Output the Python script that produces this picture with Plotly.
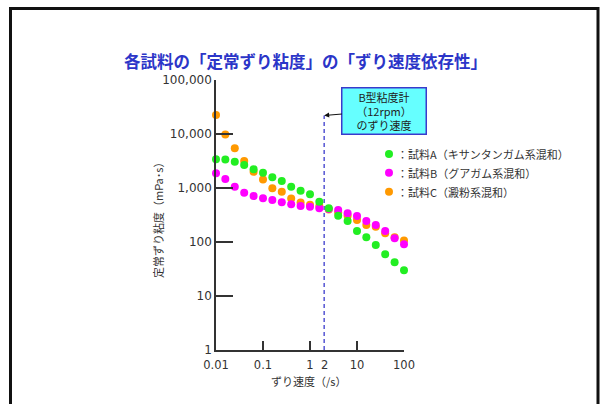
import math
import plotly.graph_objects as go

# ---- data ----
shear_rate = [0.01, 0.0158, 0.0251, 0.0398, 0.0631, 0.1, 0.158, 0.251, 0.398, 0.631,
              1, 1.58, 2.51, 3.98, 6.31, 10, 15.8, 25.1, 39.8, 63.1, 100]
sample_a = [3400, 3380, 3070, 2670, 2220, 1920, 1580, 1350, 1057, 890,
            764, 557, 421, 307, 245, 160, 122, 88, 59, 42, 30]
sample_b = [1870, 1470, 1057, 818, 711, 645, 600, 544, 499, 464,
            450, 421, 410, 392, 340, 303, 245, 206, 160, 117, 91]
sample_c = [22400, 9800, 5430, 3160, 2000, 1440, 990, 850, 640, 540,
            490, 464, 400, 350, 307, 255, 206, 192, 145, 122, 107]
series_names = ["：試料A（キサンタンガム系混和）", "：試料B（グアガム系混和）", "：試料C（澱粉系混和）"]
series_colors = ["#22ee22", "#ff00ff", "#ff9900"]

x_tickvals = [0.01, 0.1, 1, 10, 100]
x_ticktext = ["0.01", "0.1", "1", "10", "100"]
y_tickvals = [1, 10, 100, 1000, 10000, 100000]
y_ticktext = ["1", "10", "100", "1,000", "10,000", "100,000"]

b_type_rate = 2          # B型粘度計(12rpm)のずり速度
b_line_top = 22000

title_text = "各試料の「定常ずり粘度」の「ずり速度依存性」"
x_title = "ずり速度（/s）"
y_title = "定常ずり粘度（mPa･s）"
note_text = "B型粘度計<br>（12rpm）<br>のずり速度"

JP = "Noto Sans CJK JP"
NUM = "DejaVu Sans"

# ---- layout geometry (pixels) ----
W, H = 605, 404
L, R, T, B = 216, 201, 80, 54
PW, PH = W - L - R, H - T - B


def px(x):
    return (x - L) / PW


def py(y):
    return (H - B - y) / PH


fig = go.Figure()

# dashed reference line
fig.add_trace(go.Scatter(x=[b_type_rate, b_type_rate], y=[1, b_line_top], mode="lines",
                         line=dict(color="#3a3acc", width=1.3, dash="4px,3px"),
                         hoverinfo="skip", showlegend=False, cliponaxis=False))

# draw C, B, then A on top
order = [2, 1, 0]
all_vals = [sample_a, sample_b, sample_c]
for i in order:
    fig.add_trace(go.Scatter(x=shear_rate, y=all_vals[i], mode="markers", name=series_names[i],
                             marker=dict(color=series_colors[i], size=8, line=dict(width=0)),
                             cliponaxis=False, showlegend=False))

shapes = []
annotations = []

# outer frame
shapes.append(dict(type="rect", xref="paper", yref="paper",
                   x0=px(10.5), x1=px(598), y0=py(420), y1=py(8.5),
                   line=dict(color="#111111", width=3), fillcolor="rgba(0,0,0,0)", layer="below"))

# legend (manual)
leg_y = [154, 172.7, 191.7]
for name, col, yy in zip(series_names, series_colors, leg_y):
    shapes.append(dict(type="circle", xref="paper", yref="paper", xsizemode="pixel", ysizemode="pixel",
                       xanchor=px(389), yanchor=py(yy), x0=-4, x1=4, y0=-4, y1=4,
                       fillcolor=col, line=dict(width=0)))
    annotations.append(dict(x=px(395), y=py(yy), xref="paper", yref="paper", xanchor="left",
                            yanchor="middle", text=name, showarrow=False,
                            font=dict(family=JP, size=11, color="#333333")))

# title
annotations.append(dict(x=px(305), y=py(61), xref="paper", yref="paper", text=title_text,
                        showarrow=False, xanchor="center", yanchor="middle",
                        font=dict(family=JP, size=16.5, color="#2b35c8", weight="bold")))
# axis titles
annotations.append(dict(x=px(308), y=py(381), xref="paper", yref="paper", text=x_title,
                        showarrow=False, xanchor="center", yanchor="middle",
                        font=dict(family=JP, size=11, color="#333333")))
annotations.append(dict(x=px(158), y=py(218), xref="paper", yref="paper", text=y_title,
                        showarrow=False, textangle=-90, xanchor="center", yanchor="middle",
                        font=dict(family=JP, size=11, color="#333333")))
# "2" tick label
annotations.append(dict(x=math.log10(b_type_rate), y=py(364.5), xref="x", yref="paper", text="2",
                        showarrow=False, yanchor="middle", xanchor="center",
                        font=dict(family=NUM, size=11.5, color="#333333")))
# note box
annotations.append(dict(x=math.log10(b_type_rate), y=math.log10(b_line_top), xref="x", yref="y",
                        text=note_text, showarrow=True, ax=60, ay=-5,
                        arrowhead=2, arrowsize=1, arrowwidth=1, arrowcolor="#111111",
                        bgcolor="#66ffff", bordercolor="#3a3acc", borderwidth=1.5, borderpad=1,
                        width=81, height=43, align="center",
                        font=dict(family=JP, size=11, color="#222222")))

axis_common = dict(showline=True, linecolor="#333333", linewidth=1.5, showgrid=False,
                   zeroline=False, ticks="inside", tickcolor="#333333", tickwidth=1.5)

fig.update_layout(
    width=W, height=H, margin=dict(l=L, r=R, t=T, b=B, pad=0),
    paper_bgcolor="white", plot_bgcolor="white",
    shapes=shapes, annotations=annotations, showlegend=False,
    xaxis=dict(type="log", range=[-2, 2], tickvals=x_tickvals, ticktext=x_ticktext,
               ticklen=9, ticklabelstandoff=3,
               tickfont=dict(family=NUM, size=11.5, color="#333333"), **axis_common),
    yaxis=dict(type="log", range=[0, 5], tickvals=y_tickvals, ticktext=y_ticktext,
               ticklen=17, tickfont=dict(family=NUM, size=12, color="#333333"), **axis_common),
)

fig.write_html("out.html", config={"displayModeBar": False},
               post_script="document.body.style.margin='0';document.body.style.overflow='hidden';")
